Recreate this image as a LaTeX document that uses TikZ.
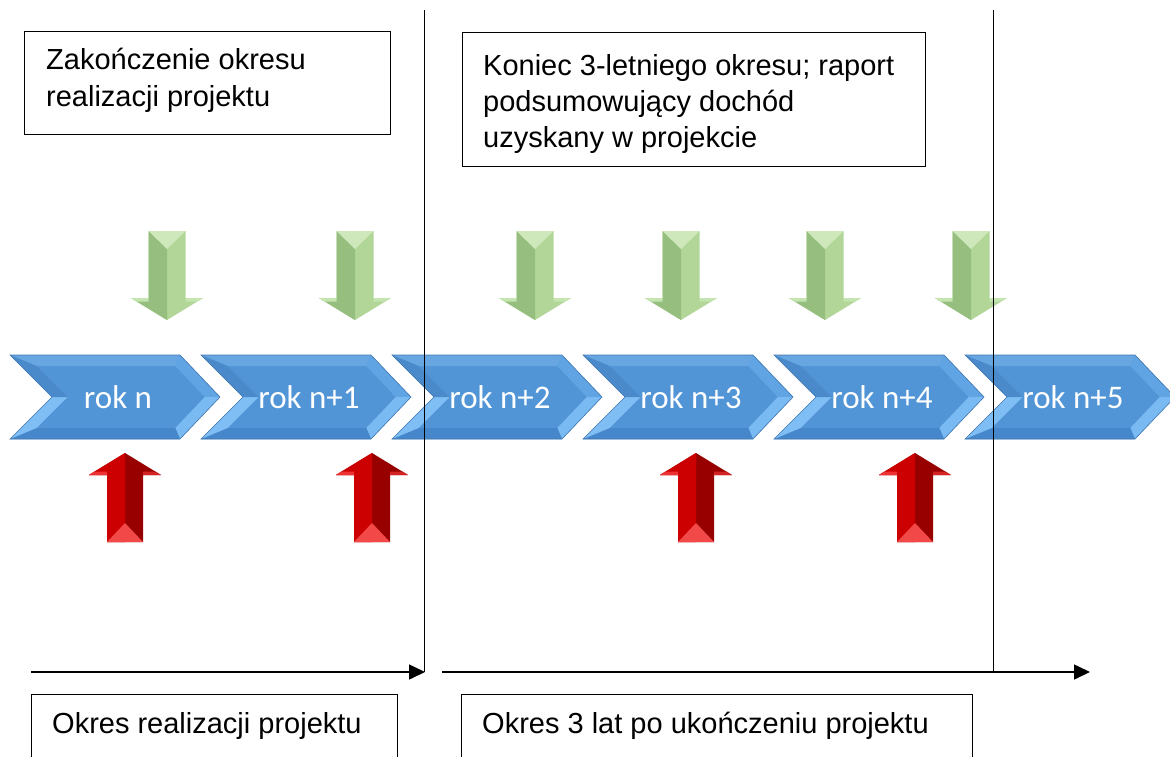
\documentclass[tikz,border=0pt]{standalone}
\usepackage{fontspec}
\setmainfont{Liberation Sans}
\newfontfamily\calibfont{Carlito}
\usetikzlibrary{arrows.meta}

\definecolor{chTop}{RGB}{104,166,226}
\definecolor{chMid}{RGB}{82,149,215}
\definecolor{chRU}{RGB}{96,164,228}
\definecolor{chRL}{RGB}{122,186,242}
\definecolor{chBot}{RGB}{70,134,202}
\definecolor{chLL}{RGB}{126,190,244}
\definecolor{chLU}{RGB}{74,138,202}
\definecolor{chLine}{RGB}{66,120,178}
\definecolor{gL}{RGB}{150,190,126}
\definecolor{gR}{RGB}{178,214,152}
\definecolor{gTop}{RGB}{206,232,188}
\definecolor{gWing}{RGB}{196,228,176}
\definecolor{rL}{RGB}{204,0,0}
\definecolor{rR}{RGB}{152,0,0}
\definecolor{rBot}{RGB}{242,72,72}
\definecolor{rWing}{RGB}{236,50,50}

\tikzset{
  yearlbl/.style={font=\calibfont\fontsize{33}{38}\selectfont, text=white, inner sep=0pt},
  lbl/.style={font=\fontsize{29}{35}\selectfont, inner sep=0pt, anchor=base west},
  boxst/.style={draw=black, line width=1pt, inner sep=0pt, anchor=north west},
  vline/.style={draw=black, line width=1pt},
  harrow/.style={draw=black, line width=1.6pt, -{Triangle[length=16pt,width=15pt]}},
}

% chevron: #1 left x, #2 node name, #3 label
\newcommand{\yearchevron}[3]{%
\begin{scope}[shift={(#1,0)}]
  \fill[chMid] (0,355) -- (170,355) -- (210,397) -- (170,439) -- (0,439) -- (42,397) -- cycle;
  \fill[chTop] (0,355) -- (170,355) -- (165.3,366) -- (26.6,366) -- cycle;
  \fill[chRU] (170,355) -- (210,397) -- (194.8,397) -- (165.3,366) -- cycle;
  \fill[chRL] (210,397) -- (170,439) -- (165.3,428) -- (194.8,397) -- cycle;
  \fill[chBot] (170,439) -- (0,439) -- (26.6,428) -- (165.3,428) -- cycle;
  \fill[chLL] (0,439) -- (42,397) -- (57.6,397) -- (26.6,428) -- cycle;
  \fill[chLU] (42,397) -- (0,355) -- (26.6,366) -- (57.6,397) -- cycle;
  \draw[chLine, line width=0.6pt] (0,355) -- (170,355) -- (210,397) -- (170,439) -- (0,439) -- (42,397) -- cycle;
  \node[yearlbl] (#2) at (108,397) {#3};
\end{scope}}

% green arrow pointing down, #1 centre x
\newcommand{\greenarrow}[1]{%
\begin{scope}[shift={(#1,0)}]
  \fill[gR] (-18.5,231) -- (18.5,231) -- (18.5,298) -- (36,298) -- (0,320) -- (-36,298) -- (-18.5,298) -- cycle;
  \fill[gL] (-18.5,231) -- (0,231) -- (0,320) -- (-36,298) -- (-18.5,298) -- cycle;
  \fill[gTop] (-18.5,231) -- (18.5,231) -- (0,249) -- cycle;
  \fill[gWing] (-36,298) -- (-18.5,298) -- (-18.5,301.5) -- (-30.5,301.5) -- cycle;
  \fill[gWing] (36,298) -- (18.5,298) -- (18.5,301.5) -- (30.5,301.5) -- cycle;
\end{scope}}

% red arrow pointing up, #1 centre x
\newcommand{\redarrow}[1]{%
\begin{scope}[shift={(#1,0)}]
  \fill[rR] (-18,542) -- (-18,475) -- (-36,475) -- (0,453) -- (36,475) -- (18,475) -- (18,542) -- cycle;
  \fill[rL] (-18,542) -- (-18,475) -- (-36,475) -- (0,453) -- (0,542) -- cycle;
  \fill[rBot] (-18,542) -- (18,542) -- (0,523) -- cycle;
  \fill[rWing] (-36,475) -- (-18,475) -- (-18,471.5) -- (-30.5,471.5) -- cycle;
  \fill[rWing!70!rR] (36,475) -- (18,475) -- (18,471.5) -- (30.5,471.5) -- cycle;
\end{scope}}

\begin{document}
\begin{tikzpicture}[x=1pt,y=-1pt]
\clip (0,0) rectangle (1170,756);
\fill[white] (0,0) rectangle (1170,756);

% year chevrons
\yearchevron{10}{y0}{rok n}
\yearchevron{201}{y1}{rok n+1}
\yearchevron{392}{y2}{rok n+2}
\yearchevron{583}{y3}{rok n+3}
\yearchevron{774}{y4}{rok n+4}
\yearchevron{965}{y5}{rok n+5}

% green arrows
\greenarrow{167}
\greenarrow{355}
\greenarrow{535}
\greenarrow{681}
\greenarrow{825}
\greenarrow{971}

% red arrows
\redarrow{125}
\redarrow{372}
\redarrow{696}
\redarrow{915}

% vertical separators
\coordinate (v1top) at (424.5,10);
\coordinate (v1bot) at (424.5,672);
\coordinate (v2top) at (993,10);
\coordinate (v2bot) at (993,672);
\draw[vline] (v1top) -- (v1bot);
\draw[vline] (v2top) -- (v2bot);

% time axis arrows
\coordinate (a1s) at (31,672);
\coordinate (a1e) at (425,672);
\coordinate (a2s) at (442,672);
\coordinate (a2e) at (1090,672);
\draw[harrow] (a1s) -- (a1e);
\draw[harrow] (a2s) -- (a2e);

% top boxes
\node[boxst, minimum width=366pt, minimum height=103pt] (tb1) at (24,31) {};
\node[lbl] (tb1a) at (46,69) {Zakończenie okresu};
\node[lbl] (tb1b) at (46,106) {realizacji projektu};

\node[boxst, minimum width=463pt, minimum height=134pt] (tb2) at (462,32) {};
\node[lbl] (tb2a) at (483,75) {Koniec 3-letniego okresu; raport};
\node[lbl] (tb2b) at (483,111) {podsumowujący dochód};
\node[lbl] (tb2c) at (483,147) {uzyskany w projekcie};

% bottom boxes
\node[boxst, minimum width=366pt, minimum height=100pt] (bb1) at (31,694) {};
\node[lbl] (bb1a) at (52,733) {Okres realizacji projektu};
\node[boxst, minimum width=511pt, minimum height=100pt] (bb2) at (461,694) {};
\node[lbl] (bb2a) at (482,733) {Okres 3 lat po ukończeniu projektu};
\end{tikzpicture}
\end{document}
